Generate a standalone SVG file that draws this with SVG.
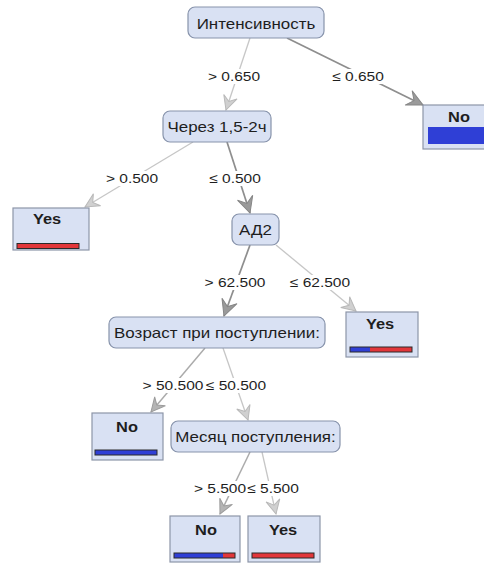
<svg xmlns="http://www.w3.org/2000/svg" width="484" height="565" viewBox="0 0 484 565">
<defs>
<style>
text{font-family:"Liberation Sans",Arial,sans-serif;fill:#1e1e1e;text-anchor:middle}
.nt{font-size:15px}
.lt{font-size:14.5px;font-weight:bold}
.lbl{font-size:13.5px}
.dec{fill:#d9e1f3;stroke:#8793ab;stroke-width:1.2}
.leaf{fill:#d9e1f3;stroke:#8d96a8;stroke-width:1.2}
.bar{stroke:#2a2a2a;stroke-width:1}
.blue{fill:#2f3fd6}
.red{fill:#e2363a}
.el{stroke:#c6c6c6;stroke-width:1.3;fill:none;marker-end:url(#al)}
.ed{stroke:#8e8e8e;stroke-width:1.7;fill:none;marker-end:url(#ad)}
.em{stroke:#ababab;stroke-width:1.5;fill:none;marker-end:url(#am)}
.bg{fill:#ffffff}
</style>
<marker id="al" markerUnits="userSpaceOnUse" markerWidth="16" markerHeight="16" viewBox="0 0 16 16" refX="15" refY="8" orient="auto">
<path d="M1,1 L15,8 L1,15 L6,8 z" fill="#d0d0d0" stroke="#b8b8b8" stroke-width="1"/>
</marker>
<marker id="am" markerUnits="userSpaceOnUse" markerWidth="16" markerHeight="16" viewBox="0 0 16 16" refX="15" refY="8" orient="auto">
<path d="M1,1 L15,8 L1,15 L6,8 z" fill="#b4b4b4" stroke="#9c9c9c" stroke-width="1"/>
</marker>
<marker id="ad" markerUnits="userSpaceOnUse" markerWidth="18" markerHeight="18" viewBox="0 0 18 18" refX="17" refY="9" orient="auto">
<path d="M1,1 L17,9 L1,17 L7,9 z" fill="#9a9a9a" stroke="#858585" stroke-width="1"/>
</marker>
</defs>
<rect width="484" height="565" fill="#ffffff"/>

<g id="connectors">
<line class="el" x1="250" y1="38" x2="226" y2="110"/>
<line class="ed" x1="287" y1="38" x2="423" y2="105"/>
<line class="el" x1="193" y1="142" x2="85" y2="207"/>
<line class="ed" x1="227" y1="142" x2="250" y2="213"/>
<line class="ed" x1="250" y1="245" x2="224" y2="316"/>
<line class="el" x1="276" y1="245" x2="356" y2="311"/>
<line class="em" x1="205" y1="348" x2="151" y2="412"/>
<line class="el" x1="223" y1="348" x2="248" y2="420"/>
<line class="em" x1="250" y1="452" x2="220" y2="514"/>
<line class="el" x1="262" y1="452" x2="276" y2="514"/>

<rect class="bg" x="206" y="69" width="56" height="15"/>
<text class="lbl" transform="translate(234,81) scale(1.15,1)">&gt; 0.650</text>
<rect class="bg" x="330" y="69" width="56" height="15"/>
<text class="lbl" transform="translate(358,81) scale(1.15,1)">≤ 0.650</text>
<rect class="bg" x="104" y="171" width="56" height="15"/>
<text class="lbl" transform="translate(132,183) scale(1.15,1)">&gt; 0.500</text>
<rect class="bg" x="207" y="171" width="56" height="15"/>
<text class="lbl" transform="translate(235,183) scale(1.15,1)">≤ 0.500</text>
<rect class="bg" x="204" y="275" width="62" height="15"/>
<text class="lbl" transform="translate(235,287) scale(1.15,1)">&gt; 62.500</text>
<rect class="bg" x="289" y="275" width="62" height="15"/>
<text class="lbl" transform="translate(320,287) scale(1.15,1)">≤ 62.500</text>
<rect class="bg" x="142" y="378" width="62" height="15"/>
<text class="lbl" transform="translate(173,390) scale(1.15,1)">&gt; 50.500</text>
<rect class="bg" x="205" y="378" width="62" height="15"/>
<text class="lbl" transform="translate(236,390) scale(1.15,1)">≤ 50.500</text>
<rect class="bg" x="194" y="481" width="52" height="15"/>
<text class="lbl" transform="translate(220,493) scale(1.15,1)">&gt; 5.500</text>
<rect class="bg" x="246" y="481" width="53" height="15"/>
<text class="lbl" transform="translate(273,493) scale(1.15,1)">≤ 5.500</text>
</g>

<g id="n-intensivnost">
<rect class="dec" x="188" y="7" width="136" height="31" rx="7"/>
<text class="nt" transform="translate(256,29) scale(1.13,1)">Интенсивность</text>
</g>
<g id="n-cherez">
<rect class="dec" x="163" y="111" width="108" height="31" rx="7"/>
<text class="nt" transform="translate(217,132) scale(1.13,1)">Через 1,5-2ч</text>
</g>
<g id="n-ad2">
<rect class="dec" x="232" y="214" width="47" height="31" rx="7"/>
<text class="nt" transform="translate(255.5,235) scale(1.13,1)">АД2</text>
</g>
<g id="n-vozrast">
<rect class="dec" x="109" y="317" width="216" height="31" rx="7"/>
<text class="nt" transform="translate(217,338) scale(1.13,1)">Возраст при поступлении:</text>
</g>
<g id="n-mesyac">
<rect class="dec" x="171" y="421" width="169" height="31" rx="7"/>
<text class="nt" transform="translate(255.5,442) scale(1.13,1)">Месяц поступления:</text>
</g>

<g id="leaf-no-1">
<rect class="leaf" x="423" y="105" width="70" height="44"/>
<text class="lt" transform="translate(459,122) scale(1.13,1)">No</text>
<rect class="blue" x="428" y="127" width="60" height="17"/>
</g>
<g id="leaf-yes-1">
<rect class="leaf" x="13" y="208" width="76" height="42"/>
<text class="lt" transform="translate(47,224) scale(1.13,1)">Yes</text>
<rect class="bar red" x="17" y="243.5" width="62" height="5"/>
</g>
<g id="leaf-yes-2">
<rect class="leaf" x="346" y="312" width="72" height="45"/>
<text class="lt" transform="translate(380,329) scale(1.13,1)">Yes</text>
<rect class="blue" x="350" y="347" width="20" height="5"/>
<rect class="red" x="370" y="347" width="42" height="5"/>
<rect x="350" y="347" width="62" height="5" fill="none" class="bar"/>
</g>
<g id="leaf-no-2">
<rect class="leaf" x="92" y="413" width="71" height="47"/>
<text class="lt" transform="translate(127,432) scale(1.13,1)">No</text>
<rect class="bar blue" x="95" y="450" width="62" height="5"/>
</g>
<g id="leaf-no-3">
<rect class="leaf" x="170" y="516" width="70" height="46"/>
<text class="lt" transform="translate(206,535) scale(1.13,1)">No</text>
<rect class="blue" x="174" y="553" width="49" height="5"/>
<rect class="red" x="223" y="553" width="12" height="5"/>
<rect x="174" y="553" width="61" height="5" fill="none" class="bar"/>
</g>
<g id="leaf-yes-3">
<rect class="leaf" x="248" y="516" width="72" height="46"/>
<text class="lt" transform="translate(283,535) scale(1.13,1)">Yes</text>
<rect class="bar red" x="252" y="553" width="62" height="5"/>
</g>
</svg>
